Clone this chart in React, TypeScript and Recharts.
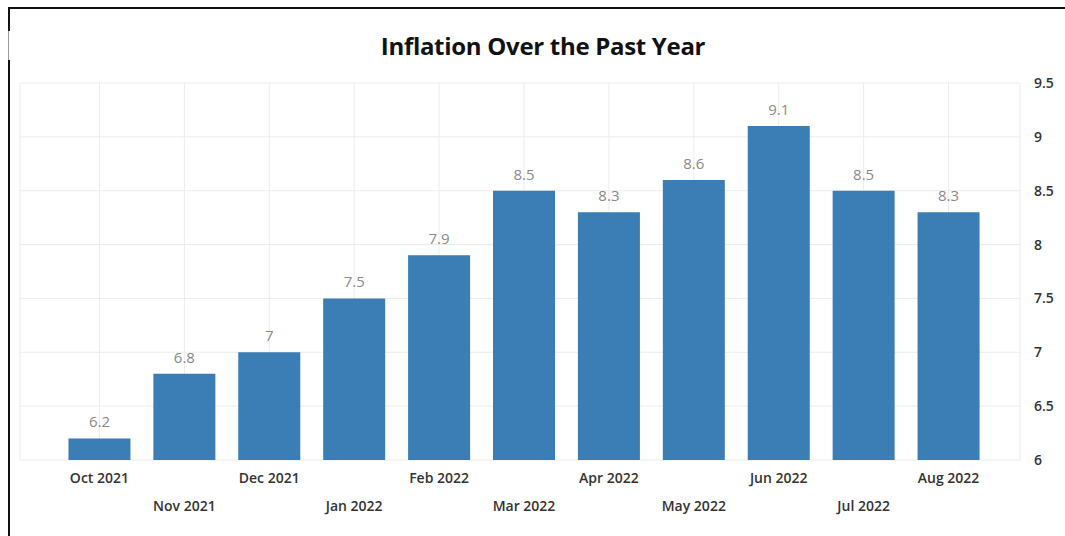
import React from 'react';
import { BarChart, Bar, XAxis, YAxis, CartesianGrid, LabelList } from 'recharts';

const months = [
    'Oct 2021', 'Nov 2021', 'Dec 2021', 'Jan 2022', 'Feb 2022', 'Mar 2022',
    'Apr 2022', 'May 2022', 'Jun 2022', 'Jul 2022', 'Aug 2022',
];
const inflation = [6.2, 6.8, 7, 7.5, 7.9, 8.5, 8.3, 8.6, 9.1, 8.5, 8.3];
const yTicks = [6, 6.5, 7, 7.5, 8, 8.5, 9, 9.5];

const data = months.map((m, i) => ({ month: m, value: inflation[i] }));

const MonthTick = (props: any) => {
    const { x, y, payload, index } = props;
    const shift = index % 2 === 1 ? 28 : 0;
    return (
        <text x={x} y={y + 15 + shift} textAnchor="middle" fill="#333" fontSize={14} fontWeight={600}
            fontFamily="'Open Sans', sans-serif">
            {payload.value}
        </text>
    );
};

const App: React.FC = () => {
    return (
        <div style={{ position: 'fixed', top: 0, left: 0, width: 1065, height: 536, background: '#fff' }}>
            <div style={{ position: 'absolute', left: 8, top: 7, right: 0, height: 2, background: '#111' }} />
            <div style={{ position: 'absolute', left: 8, top: 7, width: 2, height: 24, background: '#111' }} />
            <div style={{ position: 'absolute', left: 8, top: 31, width: 1, height: 29, background: '#999' }} />
            <div style={{ position: 'absolute', left: 8, top: 60, width: 2, bottom: 0, background: '#111' }} />
            <div style={{
                position: 'absolute', left: 0, width: 1086, top: 29, textAlign: 'center',
                fontFamily: "'Open Sans', sans-serif", fontWeight: 700, fontSize: 24,
                letterSpacing: -0.3, color: '#111',
            }}>
                Inflation Over the Past Year
            </div>
            <BarChart width={1065} height={536} data={data}
                margin={{ top: 83, right: 0, left: 20, bottom: 0 }} barCategoryGap="13.5%">
                <CartesianGrid stroke="#ececec" />
                <XAxis dataKey="month" interval={0} height={76} axisLine={false} tickLine={false}
                    padding={{ left: 37, right: 29 }} tick={<MonthTick />} />
                <YAxis orientation="right" width={45} domain={[6, 9.5]} ticks={yTicks}
                    axisLine={false} tickLine={false} tickMargin={8}
                    tick={{ fill: '#333', fontSize: 14, fontWeight: 600, fontFamily: "'Open Sans', sans-serif" }} />
                <Bar dataKey="value" fill="#3b7db5" isAnimationActive={false}>
                    <LabelList dataKey="value" position="top" offset={11} fill="#8a8a8a" fontSize={15}
                        fontFamily="'Open Sans', sans-serif" />
                </Bar>
            </BarChart>
        </div>
    );
};

export default App;
